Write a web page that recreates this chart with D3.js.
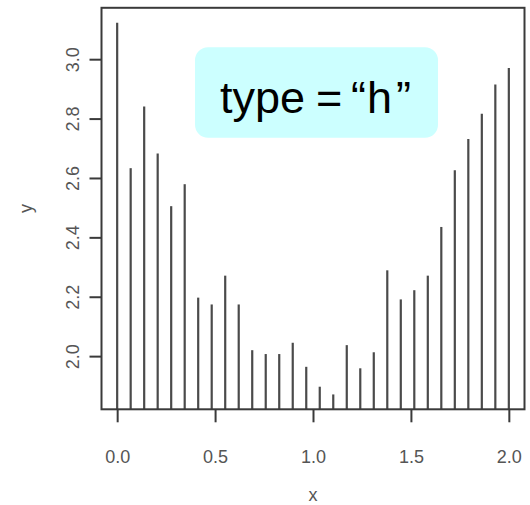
<!DOCTYPE html>
<html>
<head>
<meta charset="utf-8">
<script src="https://cdn.jsdelivr.net/npm/d3@7"></script>
<style>
  html, body { margin: 0; padding: 0; background: #fff; }
  svg { display: block; }
</style>
</head>
<body>
<script>
// Vertical "histogram-like" lines (R plot type = "h"), 30 points over [0, 2]
const xValues = d3.range(30).map(i => i * 2 / 29);
const yValues = [
  3.123, 2.633, 2.841, 2.682, 2.505, 2.579, 2.197, 2.174, 2.271, 2.174,
  2.020, 2.007, 2.007, 2.045, 1.964, 1.897, 1.871, 2.037, 1.959, 2.013,
  2.289, 2.191, 2.222, 2.271, 2.435, 2.626, 2.731, 2.816, 2.915, 2.970
];
const xTicks = [0, 0.5, 1.0, 1.5, 2.0];
const yTicks = [2.0, 2.2, 2.4, 2.6, 2.8, 3.0];
const xTickLabels = ["0.0", "0.5", "1.0", "1.5", "2.0"];
const yTickLabels = ["2.0", "2.2", "2.4", "2.6", "2.8", "3.0"];
// Label pieces of the annotation box
const labelParts = ["type", "=", "\u201C", "h", "\u201D"];
const labelOffsets = [0, 96, 131, 147, 176];

const W = 530, H = 505;
const plot = { left: 101.5, right: 524.5, top: 7.8, bottom: 409.3 };

const svg = d3.select("body").append("svg")
  .attr("width", W).attr("height", H);

// R-style 4% extension of data ranges
const xr = d3.extent(xValues), yr = d3.extent(yValues);
const xPad = (xr[1] - xr[0]) * 0.04, yPad = (yr[1] - yr[0]) * 0.04;
const x = d3.scaleLinear().domain([xr[0] - xPad, xr[1] + xPad]).range([plot.left, plot.right]);
const y = d3.scaleLinear().domain([yr[0] - yPad, yr[1] + yPad]).range([plot.bottom, plot.top]);

const font = "'Liberation Sans', Arial, Helvetica, sans-serif";

// Vertical lines from the bottom of the plot region up to each value
svg.append("g")
  .selectAll("line")
  .data(xValues)
  .join("line")
  .attr("x1", d => x(d)).attr("x2", d => x(d))
  .attr("y1", plot.bottom)
  .attr("y2", (d, i) => y(yValues[i]))
  .attr("stroke", "#4a4a4a")
  .attr("stroke-width", 2.2);

// Annotation box
const boxG = svg.append("g");
boxG.append("rect")
  .attr("x", 195).attr("y", 47.3)
  .attr("width", 243).attr("height", 90.4)
  .attr("rx", 13).attr("ry", 13)
  .attr("fill", "#ccffff");
const lbl = boxG.append("text")
  .attr("y", 112.7)
  .attr("font-family", font)
  .attr("font-size", 45)
  .attr("fill", "#000");
labelParts.forEach((t, i) => {
  lbl.append("tspan").attr("x", 220 + labelOffsets[i]).text(t);
});

// Plot frame
svg.append("rect")
  .attr("x", plot.left).attr("y", plot.top)
  .attr("width", plot.right - plot.left).attr("height", plot.bottom - plot.top)
  .attr("fill", "none")
  .attr("stroke", "#3a3a3a")
  .attr("stroke-width", 2);

// X axis (ticks below the frame)
const xAxis = d3.axisBottom(x)
  .tickValues(xTicks)
  .tickFormat((d, i) => xTickLabels[i])
  .tickSize(13)
  .tickPadding(28);
const gx = svg.append("g")
  .attr("transform", `translate(0,${plot.bottom})`)
  .call(xAxis);
gx.select(".domain").remove();
gx.selectAll(".tick line").attr("stroke", "#3a3a3a").attr("stroke-width", 2);
gx.selectAll(".tick text")
  .attr("font-family", font).attr("font-size", 18)
  .attr("fill", "#555").attr("dy", null).attr("y", 54);

// Y axis (labels rotated, parallel to the axis)
const yAxis = d3.axisLeft(y)
  .tickValues(yTicks)
  .tickFormat((d, i) => yTickLabels[i])
  .tickSize(12);
const gy = svg.append("g")
  .attr("transform", `translate(${plot.left},0)`)
  .call(yAxis);
gy.select(".domain").remove();
gy.selectAll(".tick line").attr("stroke", "#3a3a3a").attr("stroke-width", 2);
gy.selectAll(".tick text")
  .attr("font-family", font).attr("font-size", 18)
  .attr("fill", "#555")
  .attr("x", null).attr("dy", null)
  .attr("text-anchor", "middle")
  .attr("transform", "translate(-23,0) rotate(-90)");

// Axis titles
svg.append("text")
  .attr("x", (x(0) + x(2)) / 2).attr("y", 501)
  .attr("text-anchor", "middle")
  .attr("font-family", font).attr("font-size", 18)
  .attr("fill", "#555")
  .text("x");
svg.append("text")
  .attr("transform", `translate(32,${(plot.top + plot.bottom) / 2}) rotate(-90)`)
  .attr("text-anchor", "middle")
  .attr("font-family", font).attr("font-size", 18)
  .attr("fill", "#555")
  .text("y");
</script>
</body>
</html>
